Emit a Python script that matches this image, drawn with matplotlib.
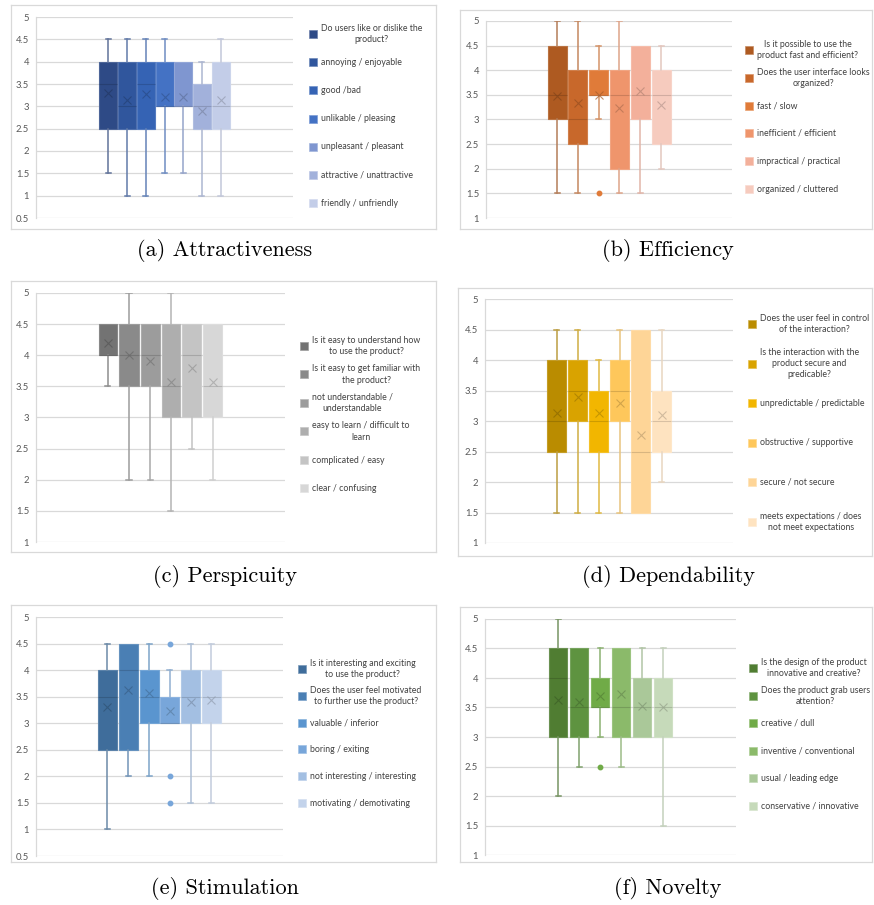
import matplotlib.pyplot as plt
from matplotlib.patches import Rectangle
from matplotlib.colors import to_rgb

# (a) Attractiveness
a_labels = ["Do users like or dislike the\nproduct?", "annoying / enjoyable", "good /bad",
            "unlikable / pleasing", "unpleasant / pleasant", "attractive / unattractive",
            "friendly / unfriendly"]
a_lo = [1.5, 1.0, 1.0, 1.5, 1.5, 1.0, 1.0]
a_q1 = [2.5, 2.5, 2.5, 3.0, 3.0, 2.5, 2.5]
a_med = [3.5, 3.0, 3.5, 3.0, 3.0, 3.0, 3.0]
a_q3 = [4.0, 4.0, 4.0, 4.0, 4.0, 3.5, 4.0]
a_hi = [4.5, 4.5, 4.5, 4.5, 4.0, 4.0, 4.5]
a_mean = [3.30, 3.15, 3.27, 3.20, 3.20, 2.90, 3.15]
a_out = [[], [], [], [], [], [], []]
a_colors = ["#2E4A86", "#30569D", "#3563B4", "#4472C4", "#7F96D0", "#A2B1DB", "#C3CDE8"]

# (b) Efficiency
b_labels = ["Is it possible to use the\nproduct fast and efficient?",
            "Does the user interface looks\norganized?", "fast / slow",
            "inefficient / efficient", "impractical / practical", "organized / cluttered"]
b_lo = [1.5, 1.5, 3.0, 1.5, 1.5, 2.0]
b_q1 = [3.0, 2.5, 3.5, 2.0, 3.0, 2.5]
b_med = [3.5, 3.0, 3.5, 3.5, 3.5, 3.5]
b_q3 = [4.5, 4.0, 4.0, 4.0, 4.5, 4.0]
b_hi = [5.0, 5.0, 4.5, 5.0, 4.5, 4.5]
b_mean = [3.47, 3.33, 3.50, 3.23, 3.57, 3.30]
b_out = [[], [], [1.5], [], [], []]
b_colors = ["#AE5A21", "#C8682B", "#E07B39", "#EF956C", "#F3B09B", "#F6CBBE"]

# (c) Perspicuity
c_labels = ["Is it easy to understand how\nto use the product?",
            "Is it easy to get familiar with\nthe product?",
            "not understandable /\nunderstandable", "easy to learn / difficult to\nlearn",
            "complicated / easy", "clear / confusing"]
c_lo = [3.5, 2.0, 2.0, 1.5, 2.5, 2.0]
c_q1 = [4.0, 3.5, 3.5, 3.0, 3.0, 3.0]
c_med = [4.0, 4.0, 4.0, 3.5, 4.0, 3.5]
c_q3 = [4.5, 4.5, 4.5, 4.5, 4.5, 4.5]
c_hi = [4.5, 5.0, 4.5, 5.0, 4.5, 4.5]
c_mean = [4.20, 4.00, 3.90, 3.57, 3.80, 3.57]
c_out = [[], [], [], [], [], []]
c_colors = ["#737373", "#8A8A8A", "#9C9C9C", "#AEAEAE", "#C4C4C4", "#D7D7D7"]

# (d) Dependability
d_labels = ["Does the user feel in control\nof the interaction?",
            "Is the interaction with the\nproduct secure and\npredicable?",
            "unpredictable / predictable", "obstructive / supportive",
            "secure / not secure", "meets expectations / does\nnot meet expectations"]
d_lo = [1.5, 1.5, 1.5, 1.5, 1.5, 2.0]
d_q1 = [2.5, 3.0, 2.5, 3.0, 1.5, 2.5]
d_med = [3.0, 3.5, 3.0, 3.5, 2.5, 3.0]
d_q3 = [4.0, 4.0, 3.5, 4.0, 4.5, 3.5]
d_hi = [4.5, 4.5, 4.0, 4.5, 4.5, 4.5]
d_mean = [3.13, 3.40, 3.13, 3.30, 2.77, 3.10]
d_out = [[], [], [], [], [], []]
d_colors = ["#BA8C00", "#D9A300", "#F2B600", "#FEC75B", "#FED597", "#FEE3C0"]

# (e) Stimulation
e_labels = ["Is it interesting and exciting\nto use the product?",
            "Does the user feel motivated\nto further use the product?",
            "valuable / inferior", "boring / exiting", "not interesting / interesting",
            "motivating / demotivating"]
e_lo = [1.0, 2.0, 2.0, 3.0, 1.5, 1.5]
e_q1 = [2.5, 2.5, 3.0, 3.0, 3.0, 3.0]
e_med = [3.5, 4.0, 3.5, 3.0, 3.5, 3.5]
e_q3 = [4.0, 4.5, 4.0, 3.5, 4.0, 4.0]
e_hi = [4.5, 4.5, 4.5, 4.0, 4.5, 4.5]
e_mean = [3.30, 3.63, 3.57, 3.23, 3.40, 3.43]
e_out = [[], [], [], [4.5, 2.0, 1.5], [], []]
e_colors = ["#3F6D9B", "#4A7FB4", "#5A95CF", "#78A6DA", "#A3BFE2", "#C3D3EB"]

# (f) Novelty
f_labels = ["Is the design of the product\ninnovative and creative?",
            "Does the product grab users\nattention?", "creative / dull",
            "inventive / conventional", "usual / leading edge", "conservative / innovative"]
f_lo = [2.0, 2.5, 3.0, 2.5, 3.0, 1.5]
f_q1 = [3.0, 3.0, 3.5, 3.0, 3.0, 3.0]
f_med = [4.0, 3.5, 3.5, 3.5, 3.5, 3.5]
f_q3 = [4.5, 4.5, 4.0, 4.5, 4.0, 4.0]
f_hi = [5.0, 4.5, 4.5, 4.5, 4.5, 4.5]
f_mean = [3.63, 3.60, 3.70, 3.73, 3.53, 3.50]
f_out = [[], [], [2.5], [], [], []]
f_colors = ["#507D32", "#5E9340", "#70AB47", "#8BBA6A", "#AAC899", "#C6DABA"]

W, H = 874, 905
fig = plt.figure(figsize=(W / 100, H / 100), dpi=100)
FONT = ["Lato", "DejaVu Sans"]
GRID = "#D9D9D9"


def mix(c, other, t):
    c = to_rgb(c)
    return tuple(a + (b - a) * t for a, b in zip(c, other))


def px_axes(x0, y0, x1, y1):
    return fig.add_axes([x0 / W, 1 - y1 / H, (x1 - x0) / W, (y1 - y0) / H])


def panel(frame, plot, ylim, lo, q1, med, q3, hi, mean, out, colors, labels,
          step, width, leg_x, leg_y, leg_step, caption, cap_xy):
    # grey frame round the whole chart
    fr = px_axes(*frame)
    fr.set_xticks([])
    fr.set_yticks([])
    for s in fr.spines.values():
        s.set_color(GRID)
        s.set_linewidth(0.9)

    ax = px_axes(*plot)
    ax.set_facecolor("none")
    pw = plot[2] - plot[0]
    n = len(q1)
    pos = [pw / 2 + (i - (n - 1) / 2) * step for i in range(n)]
    stats = []
    for i in range(n):
        stats.append(dict(whislo=lo[i], q1=q1[i], med=med[i], q3=q3[i],
                          whishi=hi[i], mean=mean[i], fliers=out[i]))
    bp = ax.bxp(stats, positions=pos, widths=width, capwidths=5, patch_artist=True,
                showmeans=True, manage_ticks=False, zorder=3)
    for i, c in enumerate(colors):
        dark = mix(c, (0, 0, 0), 0.25)
        soft = mix(c, (0.75, 0.75, 0.75), 0.35)
        bp["boxes"][i].set(facecolor=c, edgecolor=mix(c, (1, 1, 1), 0.15), linewidth=0.8)
        bp["medians"][i].set(color=dark, linewidth=0.8, alpha=0.6)
        bp["means"][i].set(marker="x", markersize=6, markeredgecolor=dark,
                           markeredgewidth=0.8, alpha=0.7)
        for k, end, edge in ((2 * i, lo[i], q1[i]), (2 * i + 1, hi[i], q3[i])):
            bp["whiskers"][k].set(color=soft, linewidth=1.1)
            bp["caps"][k].set(color=soft, linewidth=1.1)
            if end == edge:
                bp["caps"][k].set_visible(False)
        bp["fliers"][i].set(marker="o", markersize=3.2, markerfacecolor=c,
                            markeredgecolor=c, linestyle="none")

    ax.set_xlim(0, pw)
    ax.set_ylim(*ylim)
    ticks = [ylim[0] + 0.5 * k for k in range(int((ylim[1] - ylim[0]) / 0.5) + 1)]
    ax.set_yticks(ticks)
    ax.set_yticklabels(["%g" % t for t in ticks], fontfamily=FONT, fontsize=6.8, color="#595959")
    ax.tick_params(axis="y", length=0, pad=5)
    ax.set_xticks([])
    ax.grid(axis="y", color=GRID, linewidth=0.9, zorder=0)
    ax.set_axisbelow(True)
    for s in ("top", "right", "bottom"):
        ax.spines[s].set_visible(False)
    ax.spines["left"].set_color(GRID)
    ax.spines["left"].set_linewidth(0.9)

    # legend: coloured squares with centred, wrapped labels
    for i, (c, lab) in enumerate(zip(colors, labels)):
        y = leg_y + i * leg_step
        fig.add_artist(Rectangle((leg_x / W, 1 - (y + 4) / H), 8 / W, 8 / H,
                                 transform=fig.transFigure, facecolor=c,
                                 edgecolor=mix(c, (1, 1, 1), 0.3), linewidth=0.5))
        fig.text((leg_x + 12) / W, 1 - y / H, lab, ha="left", va="center",
                 multialignment="center", fontfamily=FONT, fontsize=6.3,
                 color="#404040", linespacing=1.3)

    fig.text(cap_xy[0] / W, 1 - cap_xy[1] / H, caption, ha="center", va="center",
             fontfamily="cmr10", fontsize=16, color="black")


panel((11, 5, 436, 229), (36, 17, 293, 218), (0.5, 5), a_lo, a_q1, a_med, a_q3, a_hi,
      a_mean, a_out, a_colors, a_labels, 18.7, 18, 309, 34, 28.2,
      "(a) Attractiveness", (225, 251))
panel((460, 10, 872, 229), (486, 21, 732, 218), (1, 5), b_lo, b_q1, b_med, b_q3, b_hi,
      b_mean, b_out, b_colors, b_labels, 20.8, 19, 745, 50, 27.8,
      "(b) Efficiency", (668, 251))
panel((11, 281, 436, 552), (36, 293, 285, 542), (1, 5), c_lo, c_q1, c_med, c_q3, c_hi,
      c_mean, c_out, c_colors, c_labels, 21, 19, 300, 346, 28.5,
      "(c) Perspicuity", (225, 576))
panel((458, 288, 872, 556), (485, 299, 733, 543), (1, 5), d_lo, d_q1, d_med, d_q3, d_hi,
      d_mean, d_out, d_colors, d_labels, 21, 18.3, 748, 324, 39.6,
      "(d) Dependability", (668, 576))
panel((11, 605, 436, 862), (36, 617, 283, 856), (0.5, 5), e_lo, e_q1, e_med, e_q3, e_hi,
      e_mean, e_out, e_colors, e_labels, 20.8, 19, 298, 669, 26.8,
      "(e) Stimulation", (225, 888))
panel((460, 607, 872, 862), (485, 619, 736, 855), (1, 5), f_lo, f_q1, f_med, f_q3, f_hi,
      f_mean, f_out, f_colors, f_labels, 21, 18.7, 749, 668, 27.6,
      "(f) Novelty", (668, 888))

fig.savefig("out.png", dpi=100)
